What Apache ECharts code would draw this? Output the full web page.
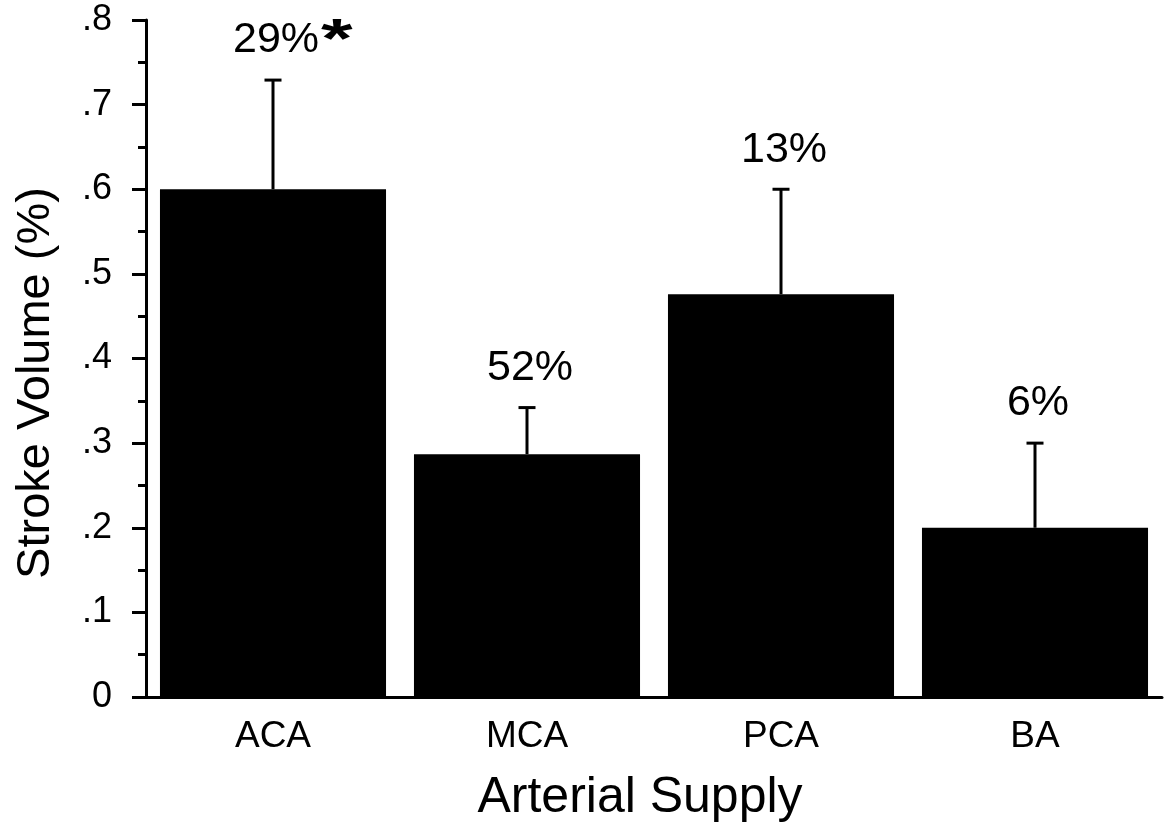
<!DOCTYPE html>
<html>
<head>
<meta charset="utf-8">
<title>Stroke Volume by Arterial Supply</title>
<script src="https://cdn.jsdelivr.net/npm/echarts@6/dist/echarts.min.js"></script>
<style>
  html, body { margin: 0; padding: 0; background: #fff; }
  #chart { width: 1169px; height: 831px; }
</style>
</head>
<body>
<div id="chart"></div>
<script>
// Territories and their mean stroke volume (%) with upper error bound
const categories = ['ACA', 'MCA', 'PCA', 'BA'];
const meanVolume = [0.60, 0.287, 0.476, 0.20];
const upperError = [0.729, 0.342, 0.60, 0.30];
// Annotation text above each error bar
const percentLabels = ['29%', '52%', '13%', '6%'];
const significance = ['*', '', '', ''];
// Y axis tick labels, one per 0.1 step
const yTickLabels = ['0', '.1', '.2', '.3', '.4', '.5', '.6', '.7', '.8'];

const FONT = '"Liberation Sans", Arial, Helvetica, sans-serif';
const chart = echarts.init(document.getElementById('chart'), null, { renderer: 'canvas' });

const errorData = categories.map((c, i) => [i, meanVolume[i], upperError[i]]);

chart.setOption({
  animation: false,
  backgroundColor: '#ffffff',
  grid: { left: 146, right: 7, top: 20, bottom: 134, containLabel: false },
  xAxis: {
    type: 'category',
    data: categories,
    name: 'Arterial Supply',
    nameLocation: 'middle',
    nameGap: 76,
    nameTextStyle: { fontFamily: FONT, fontSize: 50, color: '#000', padding: [0, 28, 0, 0] },
    axisLine: { show: true, lineStyle: { color: '#000', width: 3 } },
    axisTick: { show: false },
    axisLabel: { fontFamily: FONT, fontSize: 37, color: '#000', margin: 21 },
    splitLine: { show: false }
  },
  yAxis: {
    type: 'value',
    min: 0,
    max: 0.8,
    interval: 0.1,
    axisLine: { show: true, lineStyle: { color: '#000', width: 3 } },
    axisTick: { show: true, inside: false, length: 14, lineStyle: { color: '#000', width: 3 } },
    minorTick: { show: true, splitNumber: 2, length: 8, lineStyle: { color: '#000', width: 3 } },
    axisLabel: {
      fontFamily: FONT, fontSize: 36, color: '#000', margin: 34,
      formatter: v => yTickLabels[Math.round(v * 10)]
    },
    splitLine: { show: false }
  },
  graphic: [{
    type: 'text',
    x: 36,
    y: 383,
    rotation: Math.PI / 2,
    style: {
      text: 'Stroke Volume (%)',
      font: '47px ' + FONT,
      fill: '#000',
      align: 'center',
      verticalAlign: 'middle'
    }
  }],
  series: [
    {
      type: 'bar',
      data: meanVolume,
      barCategoryGap: '11%',
      itemStyle: { color: '#000' },
      silent: true
    },
    {
      type: 'custom',
      data: errorData,
      silent: true,
      z: 5,
      renderItem: function (params, api) {
        const i = api.value(0);
        const base = api.coord([i, api.value(1)]);
        const top = api.coord([i, api.value(2)]);
        const cap = 8.5;
        const line = { stroke: '#000', lineWidth: 3 };
        const children = [
          { type: 'line', shape: { x1: top[0], y1: base[1], x2: top[0], y2: top[1] }, style: line },
          { type: 'line', shape: { x1: top[0] - cap, y1: top[1], x2: top[0] + cap, y2: top[1] }, style: line },
          {
            type: 'text',
            x: top[0] + 3,
            y: top[1] - 18,
            style: {
              text: percentLabels[i],
              font: '43px ' + FONT,
              fill: '#000',
              align: 'center',
              verticalAlign: 'bottom'
            }
          }
        ];
        if (significance[i]) {
          children.push({
            type: 'text',
            x: top[0] + 48,
            y: top[1] - 67,
            scaleX: 1.45,
            style: {
              text: significance[i],
              font: 'bold 56px ' + FONT,
              fill: '#000',
              align: 'left',
              verticalAlign: 'top'
            }
          });
        }
        return { type: 'group', children: children };
      }
    }
  ]
});
</script>
</body>
</html>
